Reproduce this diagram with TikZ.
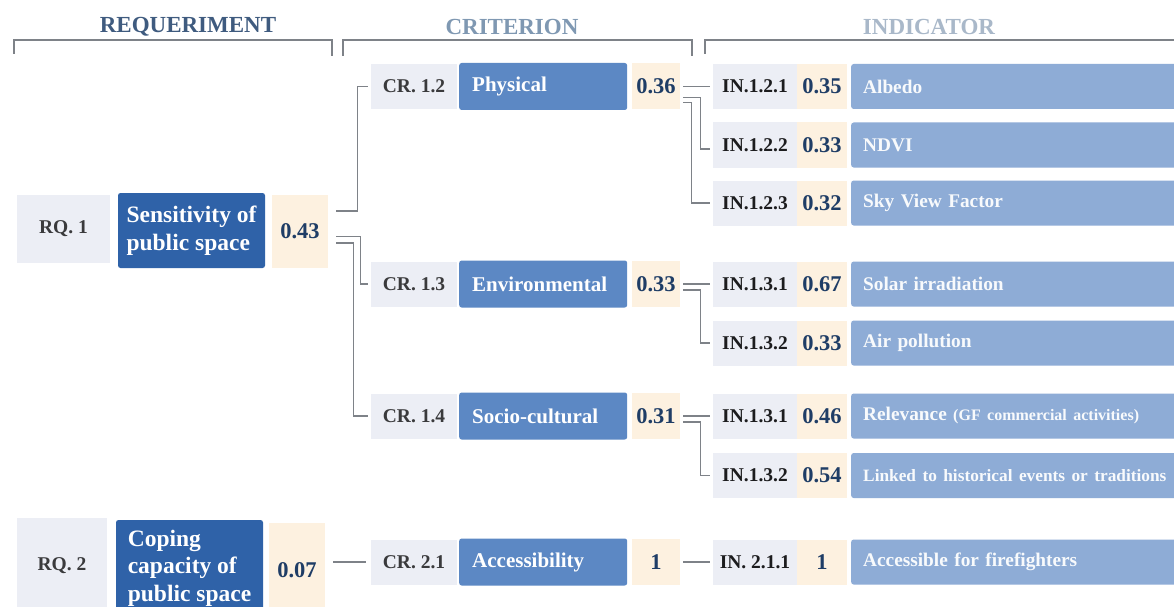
\documentclass[tikz,border=0pt]{standalone}
\usepackage{fontspec}
\setmainfont{Liberation Serif}

\definecolor{rqblue}{HTML}{2F62A8}
\definecolor{crblue}{HTML}{5C88C4}
\definecolor{inblue}{HTML}{8EACD6}
\definecolor{idgray}{HTML}{ECEEF5}
\definecolor{valpeach}{HTML}{FDF1E0}
\definecolor{idtext}{HTML}{3A3A3C}
\definecolor{intext}{HTML}{1C1C1E}
\definecolor{valtext}{HTML}{1F3D66}
\definecolor{linegray}{HTML}{7E8288}
\definecolor{hdrA}{HTML}{3F5B7F}
\definecolor{hdrB}{HTML}{7F98B2}
\definecolor{hdrC}{HTML}{A9B8C9}

\newcommand\bfsz[2]{\fontsize{#1}{#2}\selectfont\bfseries}

\begin{document}
\begin{tikzpicture}[x=1pt,y=-1pt,
  hdr/.style={font=\bfsz{23}{25}, inner sep=0},
  bracket/.style={draw=linegray, line width=1.3pt},
  conn/.style={draw=linegray, line width=1.2pt},
  idbox/.style={fill=idgray, text=idtext, font=\bfsz{19.5}{22}, inner sep=0, minimum height=45},
  crid/.style={idbox, minimum width=86},
  inid/.style={idbox, text=intext, minimum width=84},
  val/.style={fill=valpeach, text=valtext, font=\bfsz{22.5}{24}, inner sep=0, minimum height=46},
  rqbox/.style={fill=rqblue, text=white, font=\bfsz{23.5}{27.5}, rounded corners=2.5pt,
    inner sep=0, minimum width=147, align=left},
  crbox/.style={fill=crblue, text=white, font=\bfsz{21}{24}, rounded corners=2.5pt,
    inner xsep=13, inner ysep=0, minimum height=47, text width=142, align=left, anchor=west},
  inbox/.style={fill=inblue, text=white!94!inblue, font=\bfsz{19.3}{21}, rounded corners=2.5pt,
    inner xsep=12, inner ysep=0, minimum height=45, text width=330, align=left, anchor=west}
]
\useasboundingbox (0,0) rectangle (1174,607);
\fill[white] (0,0) rectangle (1174,607);

% column headers and brackets
\node[hdr, text=hdrA] (hreq) at (188,27) {REQUERIMENT};
\node[hdr, text=hdrB] (hcri) at (512,27) {CRITERION};
\node[hdr, text=hdrC] (hind) at (929,27) {INDICATOR};
\draw[bracket] (14,54) |- (332,40) -- (332,56);
\draw[bracket] (343,56) |- (692,40) -- (692,56);
\draw[bracket] (705,54) |- (1180,40);

% requirements
\node[idbox, minimum width=93, minimum height=68] (r1id) at (63.5,229) {RQ. 1};
\node[rqbox, minimum height=75] (r1) at (191.5,230.5) {Sensitivity of\\public space};
\node[val, minimum width=56, minimum height=73] (r1v) at (300,231.5) {0.43};

\node[idbox, minimum width=90, minimum height=96] (r2id) at (62,566) {RQ. 2};
\node[rqbox, minimum height=96] (r2) at (189.5,568) {Coping\\capacity of\\public space};
\node[val, minimum width=56, minimum height=94] (r2v) at (297,570) {0.07};

% criteria
\node[crid] (c12id) at (414,86.5) {CR. 1.2};
\node[crbox] (c12) at (459,86.5) {Physical};
\node[val, minimum width=48] (c12v) at (656,86.5) {0.36};

\node[crid] (c13id) at (414,284) {CR. 1.3};
\node[crbox] (c13) at (459,284) {Environmental};
\node[val, minimum width=48] (c13v) at (656,284) {0.33};

\node[crid] (c14id) at (414,416) {CR. 1.4};
\node[crbox] (c14) at (459,416) {Socio-cultural};
\node[val, minimum width=48] (c14v) at (656,416) {0.31};

\node[crid] (c21id) at (414,562) {CR. 2.1};
\node[crbox] (c21) at (459,562) {Accessibility};
\node[val, minimum width=48] (c21v) at (656,562) {1};

% indicators
\node[inid] (i121id) at (755,86.5) {IN.1.2.1};
\node[val, minimum width=50, minimum height=45] (i121v) at (822,86.5) {0.35};
\node[inbox] (i121) at (851,86.5) {Albedo};

\node[inid] (i122id) at (755,145) {IN.1.2.2};
\node[val, minimum width=50, minimum height=45] (i122v) at (822,145) {0.33};
\node[inbox] (i122) at (851,145) {NDVI};

\node[inid] (i123id) at (755,203) {IN.1.2.3};
\node[val, minimum width=50, minimum height=45] (i123v) at (822,203) {0.32};
\node[inbox] (i123) at (851,203) {Sky View Factor};

\node[inid] (i131id) at (755,284) {IN.1.3.1};
\node[val, minimum width=50, minimum height=45] (i131v) at (822,284) {0.67};
\node[inbox] (i131) at (851,284) {Solar irradiation};

\node[inid] (i132id) at (755,343) {IN.1.3.2};
\node[val, minimum width=50, minimum height=45] (i132v) at (822,343) {0.33};
\node[inbox] (i132) at (851,343) {Air pollution};

\node[inid] (i141id) at (755,416) {IN.1.3.1};
\node[val, minimum width=50, minimum height=45] (i141v) at (822,416) {0.46};
\node[inbox] (i141) at (851,416) {Relevance {\fontsize{16}{18}\selectfont (GF commercial activities)}};

\node[inid] (i142id) at (755,475.5) {IN.1.3.2};
\node[val, minimum width=50, minimum height=45] (i142v) at (822,475.5) {0.54};
\node[inbox] (i142) at (851,475.5) {\fontsize{17.3}{20}\selectfont Linked to historical events or traditions};

\node[inid] (i211id) at (755,562) {IN. 2.1.1};
\node[val, minimum width=50, minimum height=45] (i211v) at (822,562) {1};
\node[inbox] (i211) at (851,562) {Accessible for firefighters};

% requirement -> criterion connectors
\draw[conn] ([xshift=8pt,yshift=20.5pt]r1v.east) -- ++(21pt,0) |- ([xshift=-3pt]c12id.west);
\draw[conn] ([xshift=8pt,yshift=-5pt]r1v.east) -- ++(24pt,0) |- ([xshift=-3pt]c13id.west);
\draw[conn] ([xshift=8pt,yshift=-11.5pt]r1v.east) -- ++(17pt,0) |- ([xshift=-3pt]c14id.west);
\draw[conn] ([xshift=8pt]r2v.east |- c21id.west) -- ([xshift=-5pt]c21id.west);

% criterion -> indicator connectors
\draw[conn] ([xshift=3pt]c12v.east) -- ([xshift=-3pt]i121id.west);
\draw[conn] ([xshift=3pt,yshift=-11pt]c12v.east) -- ++(17pt,0) |- ([xshift=-3pt,yshift=-4pt]i122id.west);
\draw[conn] ([xshift=3pt,yshift=-16pt]c12v.east) -- ++(8pt,0) |- ([xshift=-3pt]i123id.west);

\draw[conn] ([xshift=3pt]c13v.east) -- ([xshift=-3pt]i131id.west);
\draw[conn] ([xshift=3pt,yshift=-6pt]c13v.east) -- ++(17pt,0) |- ([xshift=-3pt]i132id.west);

\draw[conn] ([xshift=3pt]c14v.east) -- ([xshift=-3pt]i141id.west);
\draw[conn] ([xshift=3pt,yshift=-6pt]c14v.east) -- ++(17pt,0) |- ([xshift=-3pt]i142id.west);

\draw[conn] ([xshift=3pt]c21v.east) -- ([xshift=-3pt]i211id.west);
\end{tikzpicture}
\end{document}
